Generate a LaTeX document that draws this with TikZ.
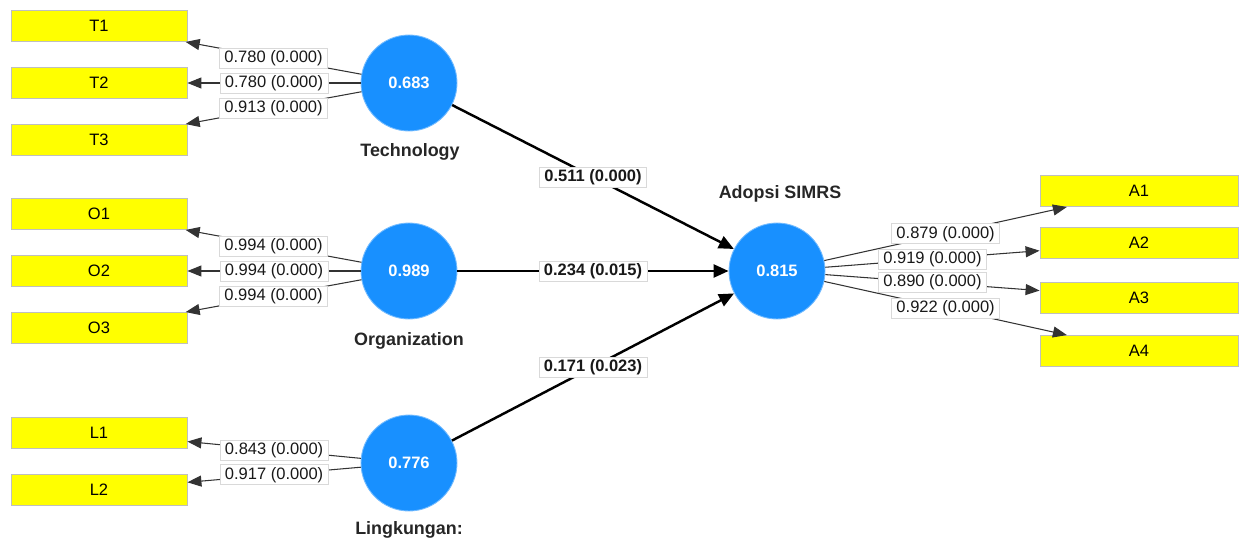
\documentclass[tikz,border=0pt]{standalone}
\usepackage{fontspec}
\setmainfont{Liberation Sans}
\usepackage{xcolor}
\usetikzlibrary{arrows.meta}

\definecolor{lvblue}{RGB}{24,144,255}
\definecolor{mvyellow}{RGB}{255,255,0}

\begin{document}
\begin{tikzpicture}[x=0.02cm,y=-0.02cm,
  latent/.style={circle,fill=lvblue,draw=lvblue!60!white,line width=0.5pt,minimum size=1.92cm,inner sep=0pt,text=white,font=\fontsize{9.4}{11}\selectfont\bfseries},
  indicator/.style={rectangle,fill=mvyellow,draw=black!25,line width=0.5pt,minimum width=3.52cm,minimum height=0.62cm,inner sep=0pt,font=\fontsize{9.4}{11}\selectfont},
  lvname/.style={font=\fontsize{10.2}{12}\selectfont\bfseries,text=black!85}]
\tikzstyle{weight} = [fill=white,draw=black!15,line width=0.4pt,inner xsep=0.1cm,inner ysep=0pt,minimum height=0.4cm,font=\fontsize{9.4}{11}\selectfont,text=black!90]
\tikzstyle{loading} = [draw=black!80,line width=0.6pt,-{Triangle[length=0.28cm,width=0.22cm]}]
\tikzstyle{inner path} = [draw=black,line width=1.4pt,-{Triangle[length=0.3cm,width=0.26cm]}]

\useasboundingbox (0,0) rectangle (1239,541);

% Latent variables
\node[latent] (tech) at (409,83) {0.683};
\node[latent] (org) at (409,271) {0.989};
\node[latent] (env) at (409,463) {0.776};
\node[latent] (adopt) at (777,271) {0.815};

\node[lvname] at (410,152) {Technology};
\node[lvname] at (409,341) {Organization};
\node[lvname] at (409,530) {Lingkungan:};
\node[lvname] at (780,194) {Adopsi SIMRS};

% Indicators
\node[indicator] (t1) at (99,26) {T1};
\node[indicator] (t2) at (99,83) {T2};
\node[indicator] (t3) at (99,140) {T3};
\node[indicator] (o1) at (99,214) {O1};
\node[indicator] (o2) at (99,271) {O2};
\node[indicator] (o3) at (99,328) {O3};
\node[indicator] (l1) at (99,433) {L1};
\node[indicator] (l2) at (99,490) {L2};
\node[indicator,minimum width=3.96cm] (a1) at (1139,191) {A1};
\node[indicator,minimum width=3.96cm] (a2) at (1139,243) {A2};
\node[indicator,minimum width=3.96cm] (a3) at (1139,298) {A3};
\node[indicator,minimum width=3.96cm] (a4) at (1139,351) {A4};

% Outer loadings
\draw[loading] (tech) -- node[weight] {0.780 (0.000)} (t1);
\draw[loading] (tech) -- node[weight] {0.780 (0.000)} (t2);
\draw[loading] (tech) -- node[weight] {0.913 (0.000)} (t3);
\draw[loading] (org) -- node[weight] {0.994 (0.000)} (o1);
\draw[loading] (org) -- node[weight] {0.994 (0.000)} (o2);
\draw[loading] (org) -- node[weight] {0.994 (0.000)} (o3);
\draw[loading] (env) -- node[weight] {0.843 (0.000)} (l1);
\draw[loading] (env) -- node[weight] {0.917 (0.000)} (l2);
\draw[loading] (adopt) -- node[weight] {0.879 (0.000)} (a1);
\draw[loading] (adopt) -- node[weight] {0.919 (0.000)} (a2);
\draw[loading] (adopt) -- node[weight] {0.890 (0.000)} (a3);
\draw[loading] (adopt) -- node[weight] {0.922 (0.000)} (a4);

% Path coefficients
\draw[inner path] (tech) -- node[weight,font=\fontsize{9.4}{11}\selectfont\bfseries] {0.511 (0.000)} (adopt);
\draw[inner path] (org) -- node[weight,font=\fontsize{9.4}{11}\selectfont\bfseries] {0.234 (0.015)} (adopt);
\draw[inner path] (env) -- node[weight,font=\fontsize{9.4}{11}\selectfont\bfseries] {0.171 (0.023)} (adopt);

\end{tikzpicture}
\end{document}
